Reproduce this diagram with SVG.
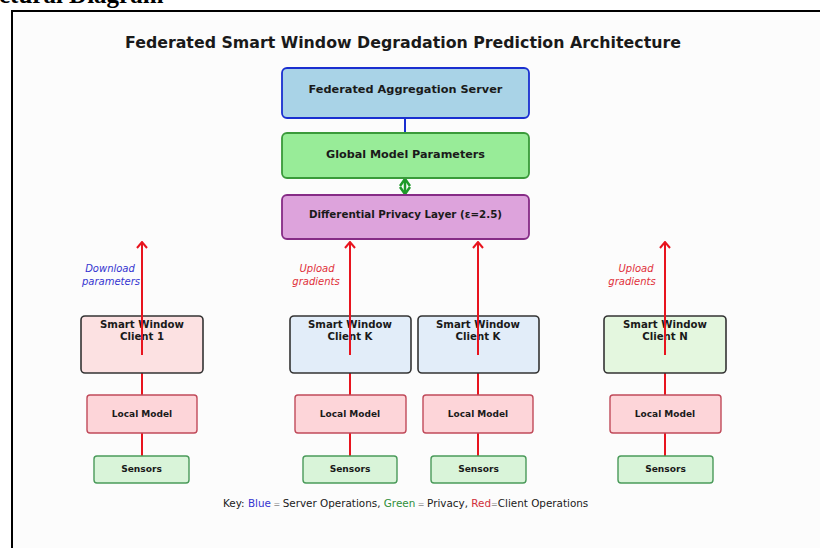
<svg xmlns="http://www.w3.org/2000/svg" width="820" height="548" viewBox="0 0 820 548">
<defs>
<style>
.t{font-family:"DejaVu Sans","Liberation Sans",sans-serif;font-weight:bold;fill:#1a1a1a;text-anchor:middle}
.lbl{font-family:"DejaVu Sans","Liberation Sans",sans-serif;font-style:italic;font-size:10px;text-anchor:middle}
.client{stroke:#333;stroke-width:1.6}
.local{fill:#fdd5d9;stroke:#c04a5a;stroke-width:1.4}
.sens{fill:#d9f4d9;stroke:#4a9a5a;stroke-width:1.4}
.red{stroke:#e8141e;stroke-width:2;fill:none}
</style>
<marker id="ah" viewBox="0 0 12 12" refX="6" refY="1" markerWidth="12" markerHeight="12" markerUnits="userSpaceOnUse" orient="0">
<path d="M1,7 L6,1 L11,7" fill="none" stroke="#e8141e" stroke-width="2"/>
</marker>
</defs>
<rect x="0" y="0" width="820" height="548" fill="#ffffff"/>
<rect x="12" y="11" width="820" height="560" fill="#fcfcfc" stroke="#000" stroke-width="2"/>
<text x="-1" y="3" style="font-family:'Liberation Serif',serif;font-weight:bold;font-size:25px;fill:#000">ctural Diagram</text>
<text class="t" x="403" y="48" style="font-size:15.8px">Federated Smart Window Degradation Prediction Architecture</text>

<g id="connectors">
<line x1="405" y1="118" x2="405" y2="133" stroke="#1a2fd0" stroke-width="2"/>
<g stroke="#1f9a2a" stroke-width="2.5" fill="none">
<line x1="405" y1="179" x2="405" y2="194"/>
<path d="M400,186 L405,179 L410,186"/>
<path d="M400,187 L405,194 L410,187"/>
</g>
<line class="red" x1="142" y1="373" x2="142" y2="395"/>
<line class="red" x1="142" y1="433" x2="142" y2="456"/>
<line class="red" x1="350" y1="373" x2="350" y2="395"/>
<line class="red" x1="350" y1="433" x2="350" y2="456"/>
<line class="red" x1="478" y1="373" x2="478" y2="395"/>
<line class="red" x1="478" y1="433" x2="478" y2="456"/>
<line class="red" x1="665" y1="373" x2="665" y2="395"/>
<line class="red" x1="665" y1="433" x2="665" y2="456"/>
</g>

<g id="server">
<rect x="282" y="68" width="247" height="50" rx="5" fill="#a9d3e7" stroke="#1a2fd0" stroke-width="1.8"/>
<text class="t" x="405.5" y="93" style="font-size:11.3px">Federated Aggregation Server</text>
</g>
<g id="global">
<rect x="282" y="133" width="247" height="45" rx="5" fill="#98ec98" stroke="#3a9a3a" stroke-width="1.8"/>
<text class="t" x="405.5" y="158" style="font-size:11.2px">Global Model Parameters</text>
</g>
<g id="dp">
<rect x="282" y="195" width="247" height="44" rx="5" fill="#dda3dc" stroke="#862c86" stroke-width="1.8"/>
<text class="t" x="405.5" y="218" style="font-size:10.3px">Differential Privacy Layer (ε=2.5)</text>
</g>

<g id="client1">
<rect class="client" x="81" y="316" width="122" height="57" rx="4" fill="#fce1e2"/>
<text class="t" x="142" y="328" style="font-size:10.2px">Smart Window</text>
<text class="t" x="142" y="340" style="font-size:10.2px">Client 1</text>
</g>
<g id="clientK1">
<rect class="client" x="290" y="316" width="121" height="57" rx="4" fill="#e2edf9"/>
<text class="t" x="350" y="328" style="font-size:10.2px">Smart Window</text>
<text class="t" x="350" y="340" style="font-size:10.2px">Client K</text>
</g>
<g id="clientK2">
<rect class="client" x="418" y="316" width="121" height="57" rx="4" fill="#e2edf9"/>
<text class="t" x="478" y="328" style="font-size:10.2px">Smart Window</text>
<text class="t" x="478" y="340" style="font-size:10.2px">Client K</text>
</g>
<g id="clientN">
<rect class="client" x="604" y="316" width="122" height="57" rx="4" fill="#e4f7df"/>
<text class="t" x="665" y="328" style="font-size:10.2px">Smart Window</text>
<text class="t" x="665" y="340" style="font-size:10.2px">Client N</text>
</g>

<g id="local1"><rect class="local" x="87" y="395" width="110" height="38" rx="3"/><text class="t" x="142" y="417" style="font-size:9px">Local Model</text></g>
<g id="local2"><rect class="local" x="295" y="395" width="111" height="38" rx="3"/><text class="t" x="350" y="417" style="font-size:9px">Local Model</text></g>
<g id="local3"><rect class="local" x="423" y="395" width="110" height="38" rx="3"/><text class="t" x="478" y="417" style="font-size:9px">Local Model</text></g>
<g id="local4"><rect class="local" x="610" y="395" width="111" height="38" rx="3"/><text class="t" x="665" y="417" style="font-size:9px">Local Model</text></g>

<g id="sensors1"><rect class="sens" x="94" y="456" width="95" height="27" rx="3"/><text class="t" x="141.5" y="472" style="font-size:9.1px">Sensors</text></g>
<g id="sensors2"><rect class="sens" x="303" y="456" width="94" height="27" rx="3"/><text class="t" x="350" y="472" style="font-size:9.1px">Sensors</text></g>
<g id="sensors3"><rect class="sens" x="431" y="456" width="95" height="27" rx="3"/><text class="t" x="478.5" y="472" style="font-size:9.1px">Sensors</text></g>
<g id="sensors4"><rect class="sens" x="618" y="456" width="95" height="27" rx="3"/><text class="t" x="665.5" y="472" style="font-size:9.1px">Sensors</text></g>

<g id="arrows">
<line class="red" x1="142" y1="355" x2="142" y2="242" marker-end="url(#ah)"/>
<line class="red" x1="350" y1="355" x2="350" y2="242" marker-end="url(#ah)"/>
<line class="red" x1="478" y1="355" x2="478" y2="242" marker-end="url(#ah)"/>
<line class="red" x1="665" y1="355" x2="665" y2="242" marker-end="url(#ah)"/>
<text class="lbl" x="110" y="272" fill="#3535d0">Download</text>
<text class="lbl" x="111" y="285" fill="#3535d0">parameters</text>
<text class="lbl" x="317" y="272" fill="#e0303a">Upload</text>
<text class="lbl" x="316" y="285" fill="#e0303a">gradients</text>
<text class="lbl" x="636" y="272" fill="#e0303a">Upload</text>
<text class="lbl" x="632" y="285" fill="#e0303a">gradients</text>
</g>

<g id="key">
<text x="223" y="507" style="font-family:'DejaVu Sans','Liberation Sans',sans-serif;font-size:10.4px;fill:#1a1a1a">Key: <tspan fill="#3535d0">Blue</tspan><tspan fill="#888" font-size="8"> = </tspan>Server Operations, <tspan fill="#2f8f3a">Green</tspan><tspan fill="#888" font-size="8"> = </tspan>Privacy, <tspan fill="#d0303a">Red</tspan><tspan fill="#888" font-size="8">=</tspan>Client Operations</text>
</g>
</svg>
